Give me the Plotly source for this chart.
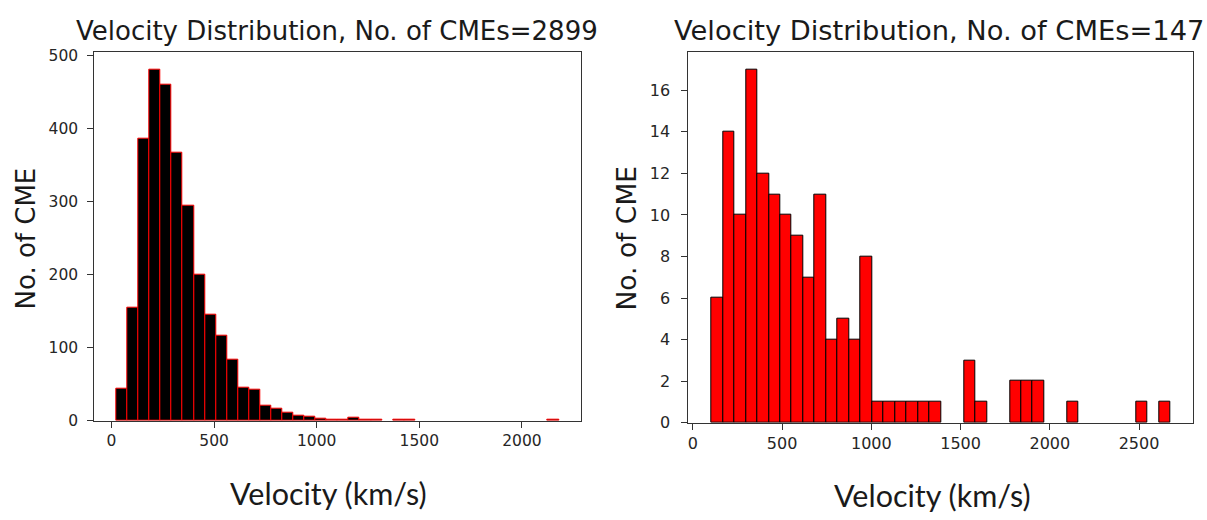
import numpy as np
import plotly.graph_objects as go

# ---------------- data ----------------
left_counts = [44, 155, 386, 481, 460, 367, 295, 200, 146, 116,
               84, 46, 42, 21, 16, 11, 7, 5, 3, 2,
               2, 4, 2, 1, 0, 1, 1, 0, 0, 0,
               0, 0, 0, 0, 0, 0, 0, 0, 0, 1]
left_vmin, left_vmax = 24, 2180

right_counts = [6, 14, 10, 17, 12, 11, 10, 9, 7, 11,
                4, 5, 4, 8, 1, 1, 1, 1, 1, 1,
                0, 0, 3, 1, 0, 0, 2, 2, 2, 0,
                0, 1, 0, 0, 0, 0, 0, 1, 0, 1]
right_vmin, right_vmax = 104, 2676

left_title = "Velocity Distribution, No. of CMEs=2899"
right_title = "Velocity Distribution, No. of CMEs=147"
y_label = "No. of CME"
x_label = "Velocity (km/s)"

left_xticks = [0, 500, 1000, 1500, 2000]
left_yticks = [0, 100, 200, 300, 400, 500]
right_xticks = [0, 500, 1000, 1500, 2000, 2500]
right_yticks = [0, 2, 4, 6, 8, 10, 12, 14, 16]


def hist_bars(vmin, vmax, counts):
    edges = np.linspace(vmin, vmax, len(counts) + 1)
    centers = (edges[:-1] + edges[1:]) / 2
    width = edges[1] - edges[0]
    ys = [c if c > 0 else None for c in counts]
    return centers, width, ys


W, H = 1207, 520
lc, lw, ly = hist_bars(left_vmin, left_vmax, left_counts)
rc, rw, ry = hist_bars(right_vmin, right_vmax, right_counts)

fig = go.Figure()
fig.add_trace(go.Bar(x=lc, y=ly, width=lw, xaxis="x", yaxis="y",
                     marker=dict(color="black", line=dict(color="#ff0000", width=1)),
                     showlegend=False))
fig.add_trace(go.Bar(x=rc, y=ry, width=rw, xaxis="x2", yaxis="y2",
                     marker=dict(color="#ff0000", line=dict(color="black", width=1)),
                     showlegend=False))


def axis_style(fs, standoff=0):
    d = dict(showline=True, linecolor="#333333", linewidth=1, mirror=True,
             ticks="outside", ticklen=6, tickwidth=1, tickcolor="#333333",
             showgrid=False, zeroline=False,
             tickfont=dict(family="DejaVu Sans", size=fs, color="#262626"),
             tickmode="array", fixedrange=True)
    if standoff:
        d["ticklabelstandoff"] = standoff
    return d


def px_x(p):
    return p / W


def px_y(p):
    return (H - p) / H


fig.update_layout(
    width=W, height=H,
    margin=dict(l=0, r=0, t=0, b=0),
    paper_bgcolor="white", plot_bgcolor="white",
    bargap=0,
    xaxis=dict(domain=[px_x(94.3), px_x(581)], range=[-83.8, 2288],
               tickvals=left_xticks, anchor="y", **axis_style(15.5)),
    yaxis=dict(domain=[px_y(428.3), px_y(49)], range=[0, 505.7],
               tickvals=left_yticks, anchor="x", **axis_style(15.5, 6)),
    xaxis2=dict(domain=[px_x(688.3), px_x(1193.3)], range=[-25.8, 2804],
                tickvals=right_xticks, anchor="y2", **axis_style(16)),
    yaxis2=dict(domain=[px_y(430.3), px_y(49)], range=[0, 17.86],
                tickvals=right_yticks, anchor="x2", **axis_style(16, 8)),
)

dark = "#1a1a1a"
ann = []
ann.append(dict(text=left_title, x=px_x(337.0), y=px_y(44), xref="paper", yref="paper",
                xanchor="center", yanchor="bottom", showarrow=False,
                font=dict(family="DejaVu Sans", size=26, color=dark), borderpad=0))
ann.append(dict(text=right_title, x=px_x(938.5), y=px_y(44), xref="paper", yref="paper",
                xanchor="center", yanchor="bottom", showarrow=False,
                font=dict(family="DejaVu Sans", size=27.3, color=dark), borderpad=0))
ann.append(dict(text=y_label, x=px_x(26), y=px_y(241), xref="paper", yref="paper",
                xanchor="center", yanchor="middle", textangle=-90, showarrow=False,
                font=dict(family="DejaVu Sans", size=26, color=dark), borderpad=0))
ann.append(dict(text=y_label, x=px_x(627), y=px_y(241), xref="paper", yref="paper",
                xanchor="center", yanchor="middle", textangle=-90, showarrow=False,
                font=dict(family="DejaVu Sans", size=26.5, color=dark), borderpad=0))
ann.append(dict(text=x_label, x=px_x(328), y=px_y(503), xref="paper", yref="paper",
                xanchor="center", yanchor="middle", showarrow=False,
                font=dict(family="Lato", size=30.5, color=dark), borderpad=0))
ann.append(dict(text=x_label, x=px_x(932), y=px_y(505), xref="paper", yref="paper",
                xanchor="center", yanchor="middle", showarrow=False,
                font=dict(family="Lato", size=30.5, color=dark), borderpad=0))
fig.update_layout(annotations=ann)

fig.write_html("out.html", config={"displayModeBar": False})
